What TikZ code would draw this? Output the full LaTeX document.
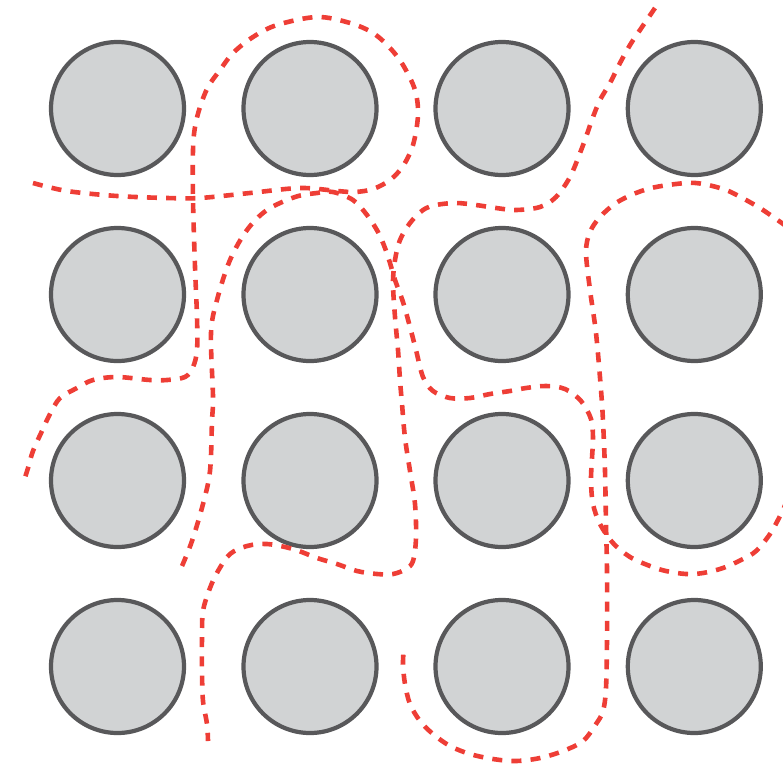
\documentclass[tikz,border=0pt]{standalone}
\definecolor{cfill}{RGB}{209,211,212}
\definecolor{cline}{RGB}{88,88,90}
\definecolor{cred}{RGB}{238,62,54}
\begin{document}
\begin{tikzpicture}[x=1pt,y=-1pt,
  pore/.style={circle,draw=cline,fill=cfill,line width=4.2pt,minimum size=133pt,inner sep=0pt},
  trail/.style={draw=cred,line width=4.6pt,dash pattern=on 10pt off 9.2pt}]
\useasboundingbox (0,0) rectangle (783,771);
\foreach \cx [count=\i] in {117.5,310,502,694.3}
  \foreach \cy [count=\j] in {108.5,294.5,480.5,666.5}
    \node[pore] (c\i\j) at (\cx,\cy) {};
% path A
\draw[trail] plot[smooth,tension=0.55] coordinates {
(33,183) (67,191) (117,196) (167,198) (200,198) (250,193) (300,188) (337,191)
(355,192) (373,189) (390,180) (403,166) (413,145) (418,115) (415,90) (403,65)
(390,48) (373,33) (350,23) (317,17) (277,25) (253,37) (233,53) (220,70)
(208,87) (200,107) (195,127) (193,150) (193,200) (195,267) (197,317) (197,350)
(193,367) (185,377) (167,380) (150,380) (117,377) (93,380) (77,388) (60,398)
(50,414) (42,431) (33,451) (28,468) (23,484)};
% path B
\draw[trail] plot[smooth,tension=0.55] coordinates {
(182,566) (192,541) (203,504) (210,471) (212,421) (213,397) (211,333) (217,300)
(230,260) (247,230) (267,210) (295,197) (317,193) (333,192) (353,200) (367,215)
(378,232) (385,248) (390,263) (395,280) (403,302) (410,327) (416,350) (423,377)
(433,391) (450,398) (470,398) (490,394) (510,391) (526,388) (546,386) (565,389)
(581,401) (591,419) (593,438) (592,458) (591,481) (593,504) (600,524) (613,543)
(630,557) (650,566) (666,571) (686,574) (703,573) (723,568) (743,559) (756,551)
(770,534) (781,514) (786,503)};
% path C
\draw[trail] plot[smooth,tension=0.55] coordinates {
(786,226) (763,210) (746,200) (726,190) (703,184) (686,183) (656,187) (636,193)
(616,203) (600,217) (590,232) (586,252) (590,290) (596,333) (601,390) (603,421)
(605,471) (606,524) (607,571) (607,638) (606,688) (603,711) (596,724) (583,741)
(563,751) (540,758) (516,761) (493,759) (470,754) (450,746) (433,734) (420,721)
(410,704) (405,684) (403,664) (404,646)};
% path D
\draw[trail] plot[smooth,tension=0.55] coordinates {
(655,8) (640,30) (630,45) (620,63) (610,83) (600,100) (593,117) (586,137)
(580,153) (570,177) (556,197) (540,207) (516,210) (496,208) (476,205) (456,203)
(436,205) (423,210) (410,223) (400,240) (395,260) (393,283) (395,317) (398,350)
(400,380) (402,404) (405,438) (410,471) (415,504) (416,538) (413,561) (406,569)
(393,574) (377,574) (357,571) (337,564) (317,558) (293,549) (267,544) (247,546)
(230,554) (218,571) (210,588) (203,611) (202,638) (202,671) (203,701) (207,724)
(208,741)};
\end{tikzpicture}
\end{document}
